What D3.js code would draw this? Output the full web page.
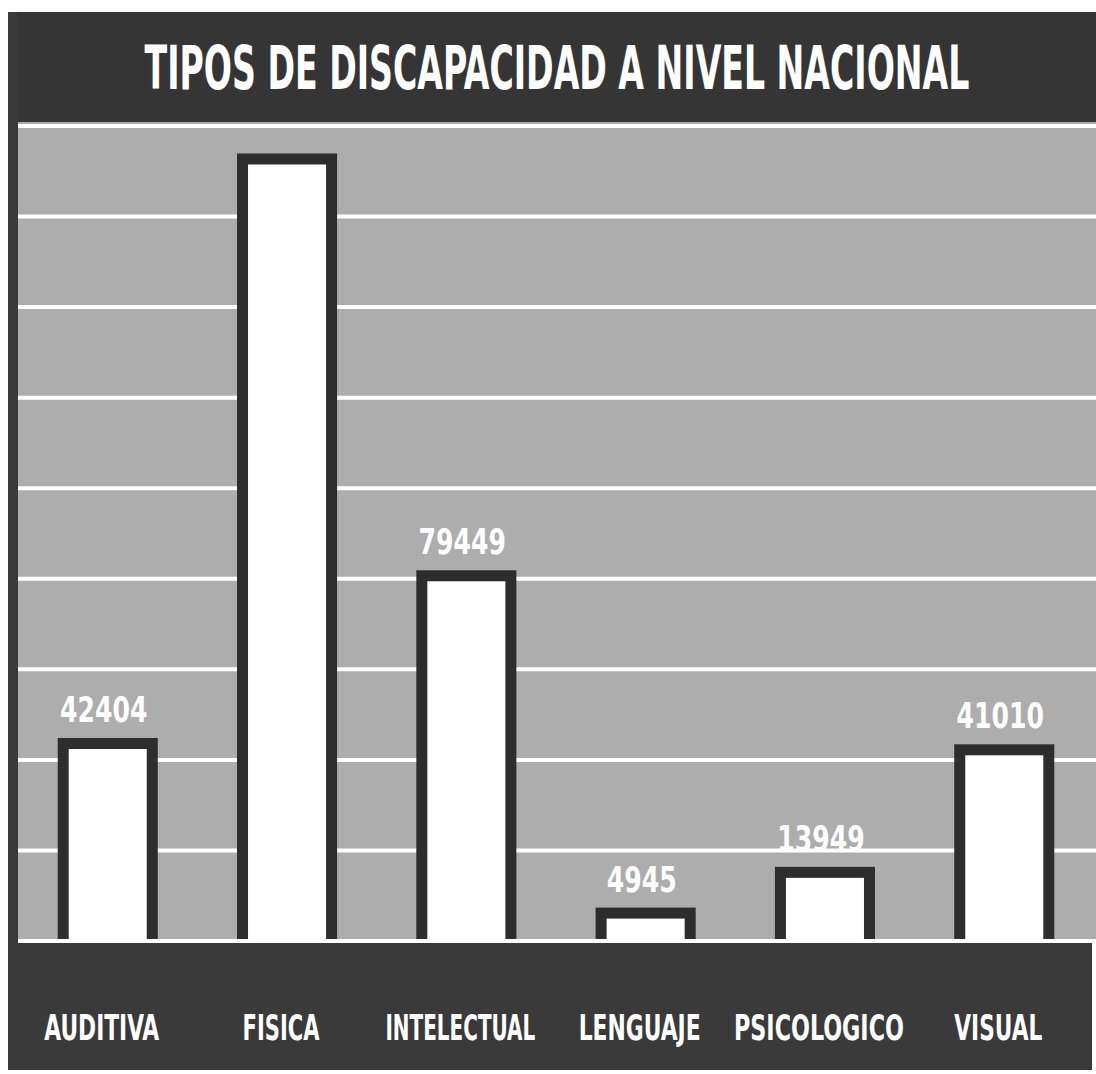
<!DOCTYPE html>
<html>
<head>
<meta charset="utf-8">
<script src="https://cdn.jsdelivr.net/npm/d3@7"></script>
<style>
  html, body { margin: 0; padding: 0; background: #ffffff; }
  svg { display: block; }
</style>
</head>
<body>
<script>
// ---- data ----
const titleText = "TIPOS DE DISCAPACIDAD A NIVEL NACIONAL";
const categories = ["AUDITIVA", "FISICA", "INTELECTUAL", "LENGUAJE", "PSICOLOGICO", "VISUAL"];
const values = [42404, 171500, 79449, 4945, 13949, 41010];
const valueLabels = ["42404", "", "79449", "4945", "13949", "41010"];
const gridTicks = [0, 20000, 40000, 60000, 80000, 100000, 120000, 140000, 160000, 180000];

// ---- layout ----
const W = 1096, H = 1074;
const plotLeft = 18, plotRight = 1096, plotTop = 122, baseY = 941;
const fontFam = "'Liberation Sans Narrow', 'DejaVu Sans Condensed', 'Liberation Sans', sans-serif";

const svg = d3.select("body").append("svg").attr("width", W).attr("height", H);

const x = d3.scaleBand().domain(categories).range([18, 1094])
  .paddingInner(0.442).paddingOuter(0.2215);
const y = d3.scaleLinear().domain([0, 180000]).range([baseY, 126]);

// helper: place text centred at (cx, by) and squeeze it horizontally to a target width
function fitText(sel, cx, by, target) {
  sel.attr("text-anchor", "middle").attr("x", 0).attr("y", 0);
  const natural = sel.node().getComputedTextLength() || 1;
  const sx = target / natural;
  sel.attr("transform", `translate(${cx},${by}) scale(${sx},1)`);
}

// plot background
svg.append("rect").attr("x", plotLeft).attr("y", plotTop)
  .attr("width", plotRight - plotLeft).attr("height", baseY - plotTop + 2)
  .attr("fill", "#adadad");

// gridlines
svg.append("g").selectAll("line").data(gridTicks).join("line")
  .attr("x1", plotLeft).attr("x2", plotRight)
  .attr("y1", d => y(d)).attr("y2", d => y(d))
  .attr("stroke", "#ffffff").attr("stroke-width", 4);

// bars
const bw = 11;
const bars = svg.append("g");
bars.selectAll("rect.outer").data(categories).join("rect").attr("class", "outer")
  .attr("x", d => x(d)).attr("width", x.bandwidth())
  .attr("y", (d, i) => y(values[i]) - bw)
  .attr("height", (d, i) => baseY - 2 - (y(values[i]) - bw))
  .attr("fill", "#2d2d2d");
bars.selectAll("rect.inner").data(categories).join("rect").attr("class", "inner")
  .attr("x", d => x(d) + bw).attr("width", x.bandwidth() - 2 * bw)
  .attr("y", (d, i) => y(values[i]))
  .attr("height", (d, i) => baseY - 2 - y(values[i]))
  .attr("fill", "#ffffff");

// value labels
const vg = svg.append("g");
categories.forEach((c, i) => {
  if (!valueLabels[i]) return;
  const t = vg.append("text")
    .attr("font-family", fontFam).attr("font-weight", "bold").attr("font-size", 36)
    .attr("fill", "#ffffff").text(valueLabels[i]);
  fitText(t, x(c) + x.bandwidth() / 2 - 4, y(values[i]) - 27, valueLabels[i].length * 17.5);
});

// title band
svg.append("rect").attr("x", 8).attr("y", 12).attr("width", W - 8).attr("height", 110)
  .attr("fill", "#353535");
const tt = svg.append("text")
  .attr("font-family", fontFam).attr("font-weight", "bold").attr("font-size", 60)
  .attr("fill", "#ffffff").text(titleText);
fitText(tt, 557, 89, 825);

// left strip
svg.append("rect").attr("x", 8).attr("y", 12).attr("width", 10).attr("height", 1058)
  .attr("fill", "#3a3a3a");

// bottom band
svg.append("rect").attr("x", 8).attr("y", baseY + 2).attr("width", 1084).attr("height", 1070 - baseY - 2)
  .attr("fill", "#3a3a3a");

// category labels
const catWidths = [115, 77, 150, 122, 170, 88];
const cg = svg.append("g");
categories.forEach((c, i) => {
  const t = cg.append("text")
    .attr("font-family", fontFam).attr("font-weight", "bold").attr("font-size", 36)
    .attr("fill", "#ffffff").text(c);
  fitText(t, x(c) + x.bandwidth() / 2 - 6, 1040, catWidths[i]);
});
</script>
</body>
</html>
